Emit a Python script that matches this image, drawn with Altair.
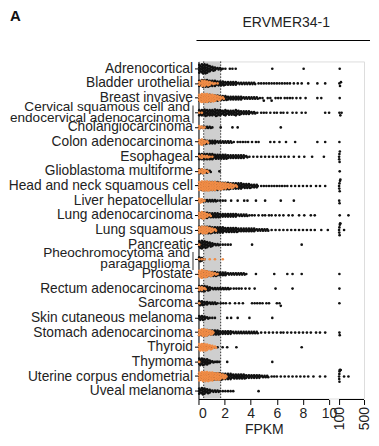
import altair as alt
import pandas as pd

GENE = "ERVMER34-1"
PANEL = "A"
X_TITLE = "FPKM"

CATS = [
    "Adrenocortical", "Bladder urothelial", "Breast invasive",
    "Cervical squamous cell and|endocervical adenocarcinoma",
    "Cholangiocarcinoma", "Colon adenocarcinoma", "Esophageal",
    "Glioblastoma multiforme", "Head and neck squamous cell",
    "Liver hepatocellular", "Lung adenocarcinoma", "Lung squamous",
    "Pancreatic", "Pheochromocytoma and|paraganglioma", "Prostate",
    "Rectum adenocarcinoma", "Sarcoma", "Skin cutaneous melanoma",
    "Stomach adenocarcinoma", "Thyroid", "Thymoma",
    "Uterine corpus endometrial", "Uveal melanoma",
]

# counts of tumour samples (black) per 0.2-FPKM bin, starting at 0
BIN = 0.2
BLACK_CORE = [
    [7, 8, 8, 7, 5, 4, 3, 2, 2, 1, 1],
    [5, 6, 6, 6, 5, 5, 5, 4, 4, 4, 3, 3, 3, 3, 3, 2, 2, 2, 2, 2, 2, 2],
    [5, 6, 6, 6, 6, 5, 5, 5, 4, 4, 4, 3, 3, 3, 3, 3, 3, 2, 2, 2, 2, 2, 2],
    [5, 5, 6, 5, 5, 5, 6, 5, 5, 4, 5, 4, 4, 4, 5, 4, 3, 3, 3, 3, 2, 2],
    [2, 2, 2, 2, 2, 1],
    [4, 4, 4, 3, 3, 3, 3, 2, 2, 2, 2, 2, 2],
    [5, 5, 5, 5, 5, 5, 4, 4, 4, 4, 4, 3, 3, 3, 3, 3, 3, 3, 2],
    [4, 4, 3, 3, 2],
    [6, 7, 7, 7, 7, 7, 7, 7, 6, 6, 6, 6, 5, 5, 5, 5, 5, 4, 4, 4, 3, 3, 3],
    [2, 2, 2, 2, 2, 2, 2, 1, 1, 1, 1],
    [5, 5, 5, 5, 4, 4, 4, 4, 3, 3, 3, 3, 3, 3, 3, 2, 2, 2, 2],
    [6, 6, 6, 6, 6, 5, 5, 5, 5, 5, 4, 4, 4, 4, 4, 3, 3, 3, 3, 3, 3, 3, 2, 2, 2, 2, 2],
    [6, 7, 6, 5, 4, 3, 2, 2, 1, 1, 1, 1, 1],
    [4, 3, 1],
    [4, 5, 5, 5, 4, 4, 4, 3, 3, 3, 3, 2, 2, 2, 2, 2, 2, 2, 1],
    [5, 5, 5, 4, 3, 2, 2, 2, 2, 2, 2, 2, 1],
    [4, 4, 3, 3, 2, 2, 2, 1],
    [4, 4, 3, 2, 1, 1, 1],
    [5, 5, 5, 5, 4, 4, 4, 4, 3, 3, 3, 3, 3, 2, 2, 2, 2, 2, 2, 2, 2, 2, 2],
    [2, 2, 2, 2, 2, 1, 1, 1],
    [6, 6, 5, 5, 3, 2, 1, 1],
    [6, 6, 6, 6, 6, 6, 6, 6, 6, 5, 5, 5, 5, 4, 4, 4, 4, 4, 3, 3, 3, 3, 3, 3, 2, 2, 2],
    [5, 6, 5, 4, 3, 2, 2, 2, 1, 1, 1, 1, 1, 1],
]

# counts of normal samples (orange) per 0.2-FPKM bin
ORANGE_CORE = [
    [],
    [3, 5, 5, 4, 3, 2, 1, 1],
    [6, 7, 7, 7, 6, 6, 5, 4, 3, 2],
    [1, 1],
    [3, 2, 1],
    [4, 5, 3, 2],
    [2, 3, 2, 2, 1, 1],
    [3, 4, 3, 2],
    [7, 8, 8, 8, 7, 7, 7, 6, 6, 5, 5, 4, 4, 3, 2],
    [4, 3, 1],
    [5, 6, 5, 3, 2],
    [5, 6, 6, 5, 4, 3, 2],
    [1],
    [1, 1, 1, 0, 1, 0, 1, 0, 0, 1],
    [6, 7, 6, 5, 4, 3, 2, 1],
    [3, 3, 2],
    [1],
    [],
    [5, 6, 6, 5, 4, 3],
    [6, 6, 6, 5, 4, 3, 2],
    [1],
    [7, 8, 8, 8, 7, 7, 6, 6, 5, 4, 3],
    [],
]

# individual tumour samples beyond the dense core (FPKM <= 10)
TAIL = [
    [2.4, 2.6, 2.85, 5.65, 8.05],
    [4.6, 4.8, 5.0, 5.2, 5.4, 5.6, 5.8, 6.0, 6.2, 6.4, 6.6, 6.8, 7.0, 7.3, 7.6, 7.9, 8.4, 9.1, 9.7],
    [4.7, 4.9, 5.0, 5.3, 5.5, 5.6, 5.9, 6.1, 6.3, 6.6, 6.8, 7.0, 7.2, 7.5, 7.8, 8.2, 9.1, 9.4],
    [4.5, 4.8, 5.0, 5.2, 5.5, 5.8, 6.0, 6.3, 6.5, 6.8, 7.2, 7.5, 7.9, 8.2, 9.7, 10.0],
    [1.7, 2.6, 3.0, 6.3],
    [2.7, 3.0, 3.2, 3.4, 3.6, 3.8, 4.1, 4.4, 4.6, 5.5, 5.8, 6.2, 6.7, 7.4, 9.1, 9.7],
    [3.9, 4.2, 4.5, 4.8, 5.1, 5.4, 5.7, 6.0, 6.3, 6.6, 6.9, 7.3, 7.7, 8.1, 8.7, 9.6],
    [1.6],
    [4.8, 5.0, 5.2, 5.4, 5.6, 5.8, 6.0, 6.2, 6.4, 6.6, 6.8, 7.1, 7.4, 7.7, 8.0, 8.3, 8.6, 9.0, 9.3, 9.7],
    [2.5, 3.0, 3.5, 3.75, 4.4, 5.1, 6.3, 7.3],
    [3.9, 4.1, 4.3, 4.6, 4.9, 5.1, 5.4, 5.6, 5.9, 6.2, 6.5, 6.9, 7.2, 7.7, 8.1, 8.6, 8.9],
    [5.6, 5.9, 6.2, 6.5, 6.8, 7.1, 7.4, 7.7, 8.0, 8.3, 8.6, 8.9, 9.4, 9.9],
    [4.1, 7.9],
    [],
    [4.4, 5.8, 6.8, 7.2, 7.9],
    [2.7, 2.9, 3.1, 3.3, 3.6, 3.9, 4.3, 5.9, 7.2],
    [1.7, 1.9, 2.1, 2.4, 2.8, 3.1, 3.4, 4.1, 4.3, 4.5, 4.7, 4.9, 5.2, 5.4, 6.0, 6.2, 6.3],
    [2.2, 2.5, 3.0, 3.9, 5.65],
    [4.8, 5.1, 5.4, 5.7, 6.0, 6.3, 6.5, 6.8, 7.1, 7.4, 7.7, 8.0, 8.3, 8.6, 9.0, 9.3, 9.7],
    [1.85, 2.2, 2.9, 7.9],
    [1.4, 1.6, 2.2, 5.65],
    [5.6, 5.8, 6.0, 6.3, 6.6, 6.9, 7.2, 7.5, 7.8, 8.1, 8.4, 8.8, 9.3, 9.7],
    [4.6],
]

# tumour samples on the compressed high segment (FPKM >= 100)
HIGH = [
    [110], [105, 115, 130], [110], [105, 120, 140], [], [105],
    [100, 102, 105, 108, 112], [110], [100, 103, 106, 110, 115, 120],
    [102, 108], [110, 250], [100, 103, 105, 108, 112, 116, 120, 180],
    [], [], [105], [105], [105], [], [105, 110], [], [],
    [100, 102, 104, 106, 108, 111, 115, 120, 125, 180, 250], [],
]

SHADE = [0.4, 1.7]
X_TICKS_LOW = [0, 2, 4, 6, 8, 10]
X_TICKS_HIGH = [100, 500]
AXIS_SEGMENTS = [[0, 10], [100, 500]]
X_BREAKS = [0, 10, 100, 500]

# ---------------- layout ----------------
FONT = "Liberation Sans"
W_LOW, GAP, W_HIGH = 131, 10, 25
W = W_LOW + GAP + W_HIGH
STEP = 14.7
H = round(STEP * len(CATS))
X_RANGE = [0, W_LOW, W_LOW + GAP, W]
DY = 1.3
BLACK, ORANGE = "#111111", "#F08C46"
MULTI = [c for c in CATS if "|" in c]
IS_MULTI = "indexof(datum.label, '|') >= 0"


def to_px(v):
    for i in range(len(X_BREAKS) - 1):
        d0, d1 = X_BREAKS[i], X_BREAKS[i + 1]
        if v <= d1 or i == len(X_BREAKS) - 2:
            r0, r1 = X_RANGE[i], X_RANGE[i + 1]
            return r0 + (v - d0) / (d1 - d0) * (r1 - r0)


def core_points(cat, counts, color, rows):
    for k, n in enumerate(counts):
        c = BIN * k + BIN / 2
        for i in range(n):
            off = (i - (n - 1) / 2) * DY
            dx = 0.04 if i % 2 else -0.04
            rows.append(dict(cat=cat, v=max(c + dx, 0.03), off=off, color=color))


def swarm_points(cat, vals, color, rows):
    placed = []
    cands = [0]
    for k in range(1, 6):
        cands += [k * DY, -k * DY]
    for v in sorted(vals):
        p = to_px(v)
        chosen = cands[-1]
        for off in cands:
            if all(((p - q) ** 2 + (off - o) ** 2) >= 2.0 ** 2 for q, o in placed):
                chosen = off
                break
        placed.append((p, chosen))
        rows.append(dict(cat=cat, v=v, off=chosen, color=color))


rows = []
for ci, cat in enumerate(CATS):
    core_points(cat, BLACK_CORE[ci], BLACK, rows)
    swarm_points(cat, TAIL[ci] + HIGH[ci], BLACK, rows)
for ci, cat in enumerate(CATS):
    core_points(cat, ORANGE_CORE[ci], ORANGE, rows)
df = pd.DataFrame(rows)

xscale = alt.Scale(domain=X_BREAKS, range=X_RANGE, nice=False, zero=False)

ax_low = alt.Axis(values=X_TICKS_LOW, orient="bottom", title=X_TITLE, titleX=W_LOW / 2,
                  domain=False, grid=False, tickSize=5, offset=1, tickColor="black",
                  labelFontSize=14, titleFontSize=14, titleFontWeight="normal",
                  labelColor="#222", titleColor="#222", labelFont=FONT, titleFont=FONT,
                  labelPadding=2, titlePadding=2)
ax_high = alt.Axis(values=X_TICKS_HIGH, orient="bottom", title=None, domain=False,
                   grid=False, tickSize=5, offset=1, tickColor="black", labelAngle=270,
                   labelFontSize=14, labelColor="#222", labelFont=FONT, labelPadding=2)

ysc = alt.Scale(domain=CATS, paddingInner=0, paddingOuter=0)
yenc = alt.Y("cat:N", sort=CATS, scale=ysc,
             axis=alt.Axis(title=None, labelExpr="split(datum.label, '|')",
                           labelFontSize={"condition": {"test": IS_MULTI, "value": 13.6},
                                          "value": 13.8},
                           labelLineHeight=11, labelFont=FONT,
                           labelColor="#222", tickSize=4, labelLimit=0,
                           labelPadding={"condition": {"test": IS_MULTI, "value": 5},
                                         "value": 2},
                           labelOffset={"condition": {"test": IS_MULTI, "value": -6},
                                        "value": 0},
                           domainColor="black", tickColor="black", grid=False))

shade = alt.Chart(pd.DataFrame({"a": [SHADE[0]], "b": [SHADE[1]]})).mark_rect(
    color="#cfcfcf").encode(x=alt.X("a:Q", scale=xscale, axis=ax_low), x2="b:Q")

dotted = alt.Chart(pd.DataFrame({"v": SHADE})).mark_rule(
    strokeDash=[1.5, 1.5], color="#333", strokeWidth=1).encode(
    x=alt.X("v:Q", scale=xscale, axis=None))

points = alt.Chart(df).mark_circle(size=7, opacity=1).encode(
    x=alt.X("v:Q", scale=xscale, axis=None),
    y=yenc,
    yOffset=alt.YOffset("off:Q", scale=alt.Scale(domain=[-STEP / 2, STEP / 2])),
    color=alt.Color("color:N", scale=None),
)

brackets = alt.Chart(pd.DataFrame({"cat": MULTI})).mark_rect(color="#333").encode(
    y=alt.Y("cat:N", sort=CATS, scale=ysc), x=alt.value(-6), x2=alt.value(-5))

seg_df = pd.DataFrame({"a": [s[0] for s in AXIS_SEGMENTS], "b": [s[1] for s in AXIS_SEGMENTS]})
segs = alt.Chart(seg_df).mark_rule(color="black", strokeWidth=1).encode(
    x=alt.X("a:Q", scale=xscale, axis=ax_high), x2="b:Q", y=alt.value(H + 1))

gene_df = pd.DataFrame({"t": [GENE]})
gene_text = alt.Chart(gene_df).mark_text(fontSize=14, font=FONT, color="#222",
                                         baseline="middle").encode(
    text="t:N", x=alt.value(88), y=alt.value(-39))
gene_rule = alt.Chart(gene_df).mark_rule(color="black", strokeWidth=1).encode(
    x=alt.value(-2), x2=alt.value(W + 6), y=alt.value(-21))
panel_text = alt.Chart(pd.DataFrame({"t": [PANEL]})).mark_text(
    fontSize=15, font=FONT, fontWeight="bold", align="left", baseline="middle",
    color="#111").encode(text="t:N", x=alt.value(-189), y=alt.value(-45.5))

chart = alt.layer(shade, dotted, points, brackets, segs, gene_text, gene_rule,
                  panel_text).resolve_axis(x="independent").properties(
    width=W, height=H, padding={"left": 0, "top": 0, "right": 0, "bottom": 0}
).configure_view(stroke=None).configure(font=FONT)

chart.save("out.html", embed_options={"renderer": "svg", "actions": False})
